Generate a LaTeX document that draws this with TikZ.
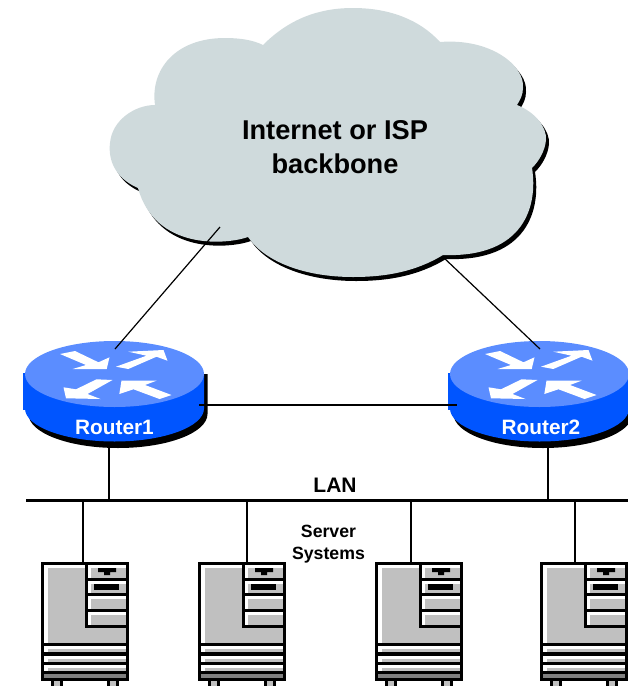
\documentclass[tikz,border=0pt]{standalone}
\usepackage{fontspec}
\setmainfont{Liberation Sans}
\definecolor{cloudgrey}{HTML}{CFDADC}
\definecolor{routertop}{HTML}{5B8DFF}
\definecolor{routerside}{HTML}{0055FF}
\definecolor{boxgrey}{HTML}{C0C0C0}
\definecolor{slotgrey}{HTML}{808080}
\usetikzlibrary{positioning}
\tikzstyle{label}=[inner sep=0pt,align=center,font=\bfseries]
\tikzstyle{routerlabel}=[label,text=white,font=\bfseries\fontsize{20.8}{22}\selectfont]
\tikzstyle{link}=[draw,line width=1.2pt]

% cloud outline
\newcommand{\cloudpath}{
  (263,45) .. controls (290,18) and (320,8) .. (353,8)
  .. controls (390,8) and (420,20) .. (440,42)
  .. controls (490,38) and (525,65) .. (523,88)
  .. controls (523,95) and (520,100) .. (517,105)
  .. controls (535,112) and (547,127) .. (546,140)
  .. controls (545,150) and (540,160) .. (532,168)
  .. controls (538,205) and (525,258) .. (443,255)
  .. controls (415,272) and (385,277) .. (353,277)
  .. controls (305,277) and (265,262) .. (248,237)
  .. controls (225,245) and (155,250) .. (138,188)
  .. controls (115,178) and (108,160) .. (110,143)
  .. controls (112,120) and (135,105) .. (155,105)
  .. controls (150,70) and (175,38) .. (225,38)
  .. controls (240,38) and (253,40) .. (263,45) -- cycle}

% router drawing, centred on #1
\newcommand{\routerbody}[1]{
  \begin{scope}[shift={(#1)}]
    \fill[black] (-86,0) -- (-86,40) arc (180:0:89.5 and 34) -- (93,0) -- cycle;
    \fill[routerside] (-91.5,-1) rectangle (-88,36);
    \fill[routerside] (-89.5,0) -- (-89.5,34.5) arc (180:0:89.5 and 33) -- (89.5,0) -- cycle;
    \fill[routertop] (0,0) ellipse (89.5 and 33);
    \fill[white] (-54.5,-20) -- (-39.5,-23) -- (-16,-11.7) -- (-5,-16.7) -- (-7.8,-5) -- (-41.8,-5) -- (-28.5,-9) -- cycle;
    \fill[white] (1.5,-7.3) -- (32,-18.3) -- (13.8,-22.3) -- (49,-24) -- (53,-13.3) -- (42,-17.3) -- (13.8,-5) -- cycle;
    \fill[white] (-2,6) -- (-18,5.3) -- (-38.5,15.3) -- (-51,13.3) -- (-48.5,24.3) -- (-14,25) -- (-27,20) -- cycle;
    \fill[white] (4.8,20) -- (7,6.7) -- (42,6.7) -- (30.5,11) -- (57,21) -- (45,25) -- (19,15.3) -- cycle;
  \end{scope}}

% server drawing, top left corner on #1
\newcommand{\serverbody}[1]{
  \begin{scope}[shift={(#1)}]
    \fill[black] (0,0) rectangle (88,119);
    \fill[white] (3,3) rectangle (85,81);
    \fill[boxgrey] (7,6) rectangle (85,81);
    \fill[black] (44,0) rectangle (85,65.5);
    \foreach \slottop/\slotend in {3/16,19/31,34/47,50/63}{
      \fill[white] (47,\slottop) rectangle (85,\slotend);
      \fill[boxgrey] (50,\slottop+3) rectangle (85,\slotend);
    }
    \fill[black] (57,6) rectangle (75,10) (63,10) rectangle (69,13);
    \fill[black] (53,22) rectangle (78,28);
    \foreach \stripetop in {84,94,103}{
      \fill[white] (3,\stripetop) rectangle (85,\stripetop+6);
      \fill[boxgrey] (7,\stripetop+3) rectangle (85,\stripetop+6);
    }
    \fill[slotgrey] (3,112) rectangle (85,115.5);
    \foreach \footx in {10,66}{
      \fill[black] (\footx,119) rectangle (\footx+12,124);
      \fill[boxgrey] (\footx+3,119) rectangle (\footx+9,124);
    }
  \end{scope}}

\begin{document}
\begin{tikzpicture}[x=1pt,y=-1pt]
  \useasboundingbox (0,0) rectangle (628,686);

  \fill[black,shift={(3,4)}] \cloudpath;
  \fill[cloudgrey] \cloudpath;
  \node[label,font=\bfseries\fontsize{27.2}{34}\selectfont] (cloud) at (335,147) {Internet or ISP\\backbone};

  \routerbody{114.5,374}
  \routerbody{539.5,374}
  \node[routerlabel] (router1) at (114.5,427.5) {Router1};
  \node[routerlabel] (router2) at (541,427.5) {Router2};

  \node[label,font=\bfseries\fontsize{21}{22}\selectfont] (lan) at (335,485) {LAN};
  \node[label,font=\bfseries\fontsize{17.7}{21.5}\selectfont] (systems) at (328.5,544) {Server\\Systems};

  \serverbody{41,562}
  \serverbody{198,562}
  \serverbody{375,562}
  \serverbody{540,562}

  \coordinate (cloudleft) at (220,227);
  \coordinate (cloudright) at (443,257);
  \coordinate (r1top) at (115,349);
  \coordinate (r2top) at (540,349);
  \coordinate (r1east) at (199,405);
  \coordinate (r2west) at (457,405);
  \coordinate (r1foot) at (109,447);
  \coordinate (r2foot) at (548,447);
  \coordinate (lanwest) at (26,500.5);
  \coordinate (laneast) at (628,500.5);

  \draw[link] (cloudleft) -- (r1top);
  \draw[link] (cloudright) -- (r2top);
  \draw[link] (r1east) -- (r2west);
  \draw[line width=3.6pt] (lanwest) -- (laneast);
  \draw[link] (r1foot) -- (r1foot |- lanwest);
  \draw[link] (r2foot) -- (r2foot |- lanwest);

  \foreach \tapx in {83,247,411,575}
    \draw[link] (\tapx,500) -- (\tapx,562);
\end{tikzpicture}
\end{document}
